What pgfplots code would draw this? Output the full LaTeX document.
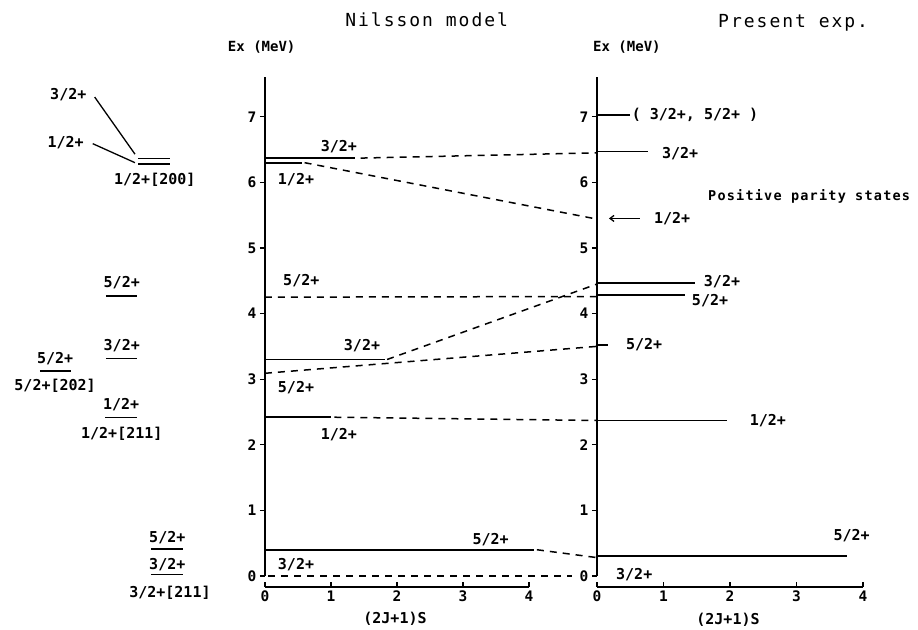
\documentclass[border=0pt]{standalone}
\usepackage{fontspec}
\setmainfont{DejaVu Sans Mono}
\usepackage{pgfplots}
\pgfplotsset{compat=1.18}
\usetikzlibrary{arrows.meta}
\newcommand\lab{\bfseries\fontsize{15}{17}\selectfont}
\newcommand\tkl{\bfseries\fontsize{14.5}{16}\selectfont}
\newcommand\axl{\bfseries\fontsize{14}{16}\selectfont}
\newcommand\ttl{\fontsize{18}{20}\selectfont\addfontfeature{LetterSpace=11}}
\newcommand\pps{\bfseries\fontsize{13.5}{16}\selectfont\addfontfeature{LetterSpace=9}}
\pgfplotsset{
  level/.style={black, line width=1.7pt, no marks},
  conn/.style={black, line width=1.5pt, no marks, dash pattern=on 7pt off 6pt},
  panel/.style={
    x=66pt, y=65.6pt, xmin=0, xmax=4, ymin=-0.17, ymax=7.6,
    axis x line=bottom, axis y line=left,
    axis line style={-, line width=1.8pt},
    y axis line style={draw=none},
    xtick={0,...,4}, ytick={0,...,7},
    xtick align=inside, ytick align=outside,
    major tick length=5pt,
    tick style={line width=1.3pt, black},
    ticklabel style={font=\tkl},
    /pgf/number format/assume math mode=true,
    clip=false,
    anchor=south west,
  },
}
\tikzset{lbl/.style={font=\lab, inner sep=0pt}}
\begin{document}
\begin{tikzpicture}
% ---------------- Nilsson model panel ----------------
\begin{axis}[panel, at={(0pt,0pt)}]
\path[draw=none] (axis cs:-4.015,8.78) rectangle (axis cs:9.894,-0.823);
\addplot[black, line width=2pt, no marks] coordinates {(0,0) (0,7.6)};
% levels
\addplot[level] coordinates {(0,6.37) (1.36,6.37)};
\addplot[level] coordinates {(0,6.30) (0.56,6.30)};
\addplot[level] coordinates {(0,3.30) (1.82,3.30)};
\addplot[level] coordinates {(0,2.42) (1.00,2.42)};
\addplot[level] coordinates {(0,0.40) (4.08,0.40)};
% connections to experiment
\addplot[conn] coordinates {(1.45,6.37) (5.03,6.45)};
\addplot[conn] coordinates {(0.60,6.30) (5.03,5.44)};
\addplot[conn] coordinates {(0.00,4.25) (5.03,4.26)};
\addplot[conn] coordinates {(1.85,3.30) (5.03,4.45)};
\addplot[conn] coordinates {(0.00,3.09) (5.03,3.50)};
\addplot[conn] coordinates {(1.05,2.42) (5.03,2.37)};
\addplot[conn] coordinates {(4.12,0.40) (5.03,0.28)};
\addplot[conn] coordinates {(0.05,0.00) (4.65,0.00)};
% labels of the Nilsson levels
\node[lbl] at (axis cs:1.12,6.54) {3/2+};
\node[lbl] at (axis cs:0.47,6.04) {1/2+};
\node[lbl] at (axis cs:0.55,4.50) {5/2+};
\node[lbl] at (axis cs:1.47,3.51) {3/2+};
\node[lbl] at (axis cs:0.47,2.87) {5/2+};
\node[lbl] at (axis cs:1.12,2.16) {1/2+};
\node[lbl] at (axis cs:3.42,0.55) {5/2+};
\node[lbl] at (axis cs:0.47,0.18) {3/2+};
% far-left orbit scheme
\addplot[black, line width=1.3pt, no marks] coordinates {(-1.92,6.36) (-1.44,6.36)};
\addplot[black, line width=1.3pt, no marks] coordinates {(-1.92,6.28) (-1.44,6.28)};
\addplot[black, line width=1.3pt, no marks] coordinates {(-2.58,7.30) (-1.97,6.43)};
\addplot[black, line width=1.3pt, no marks] coordinates {(-2.61,6.59) (-1.97,6.30)};
\addplot[black, line width=1.3pt, no marks] coordinates {(-2.41,4.27) (-1.94,4.27)};
\addplot[black, line width=1.3pt, no marks] coordinates {(-2.41,3.31) (-1.94,3.31)};
\addplot[black, line width=1.3pt, no marks] coordinates {(-3.41,3.125) (-2.94,3.125)};
\addplot[black, line width=1.3pt, no marks] coordinates {(-2.42,2.42) (-1.94,2.42)};
\addplot[black, line width=1.3pt, no marks] coordinates {(-1.73,0.41) (-1.24,0.41)};
\addplot[black, line width=1.3pt, no marks] coordinates {(-1.73,0.02) (-1.24,0.02)};
\node[lbl] at (axis cs:-2.98,7.33) {3/2+};
\node[lbl] at (axis cs:-3.02,6.60) {1/2+};
\node[lbl] at (axis cs:-1.67,6.04) {1/2+[200]};
\node[lbl] at (axis cs:-2.17,4.47) {5/2+};
\node[lbl] at (axis cs:-2.17,3.51) {3/2+};
\node[lbl] at (axis cs:-3.18,3.32) {5/2+};
\node[lbl] at (axis cs:-3.18,2.90) {5/2+[202]};
\node[lbl] at (axis cs:-2.18,2.61) {1/2+};
\node[lbl] at (axis cs:-2.17,2.16) {1/2+[211]};
\node[lbl] at (axis cs:-1.48,0.58) {5/2+};
\node[lbl] at (axis cs:-1.48,0.17) {3/2+};
\node[lbl] at (axis cs:-1.44,-0.26) {3/2+[211]};
% axis titles
\node[font=\axl, inner sep=0pt] at (axis cs:-0.05,8.06) {Ex (MeV)};
\node[lbl] at (axis cs:1.97,-0.655) {(2J+1)S};
\node[font=\ttl, inner sep=0pt] at (axis cs:2.45,8.48) {Nilsson model};
\end{axis}
% ---------------- Present experiment panel ----------------
\begin{axis}[panel, at={(332pt,0pt)}, x=66.5pt]
\addplot[black, line width=2pt, no marks] coordinates {(0,0) (0,7.6)};
\addplot[level] coordinates {(0,7.03) (0.50,7.03)};
\addplot[level] coordinates {(0,6.47) (0.76,6.47)};
\addplot[level] coordinates {(0,4.47) (1.47,4.47)};
\addplot[level] coordinates {(0,4.28) (1.32,4.28)};
\addplot[level] coordinates {(0,3.52) (0.17,3.52)};
\addplot[level] coordinates {(0,2.37) (1.95,2.37)};
\addplot[level] coordinates {(0,0.30) (3.76,0.30)};
\addplot[black, line width=1.3pt, no marks, {Straight Barb[length=4pt,width=6pt]}-] coordinates {(0.18,5.45) (0.65,5.45)};
\node[lbl, anchor=west] at (axis cs:0.52,7.03) {( 3/2+, 5/2+ )};
\node[lbl] at (axis cs:1.25,6.44) {3/2+};
\node[lbl] at (axis cs:1.13,5.45) {1/2+};
\node[font=\pps, inner sep=0pt] at (axis cs:3.19,5.78) {Positive parity states};
\node[lbl] at (axis cs:1.88,4.49) {3/2+};
\node[lbl] at (axis cs:1.70,4.20) {5/2+};
\node[lbl] at (axis cs:0.71,3.52) {5/2+};
\node[lbl] at (axis cs:2.57,2.37) {1/2+};
\node[lbl] at (axis cs:3.83,0.61) {5/2+};
\node[lbl] at (axis cs:0.56,0.02) {3/2+};
\node[font=\axl, inner sep=0pt] at (axis cs:0.45,8.06) {Ex (MeV)};
\node[lbl] at (axis cs:1.97,-0.67) {(2J+1)S};
\node[font=\ttl, inner sep=0pt] at (axis cs:2.95,8.43) {Present exp.};
\end{axis}
\end{tikzpicture}
\end{document}
